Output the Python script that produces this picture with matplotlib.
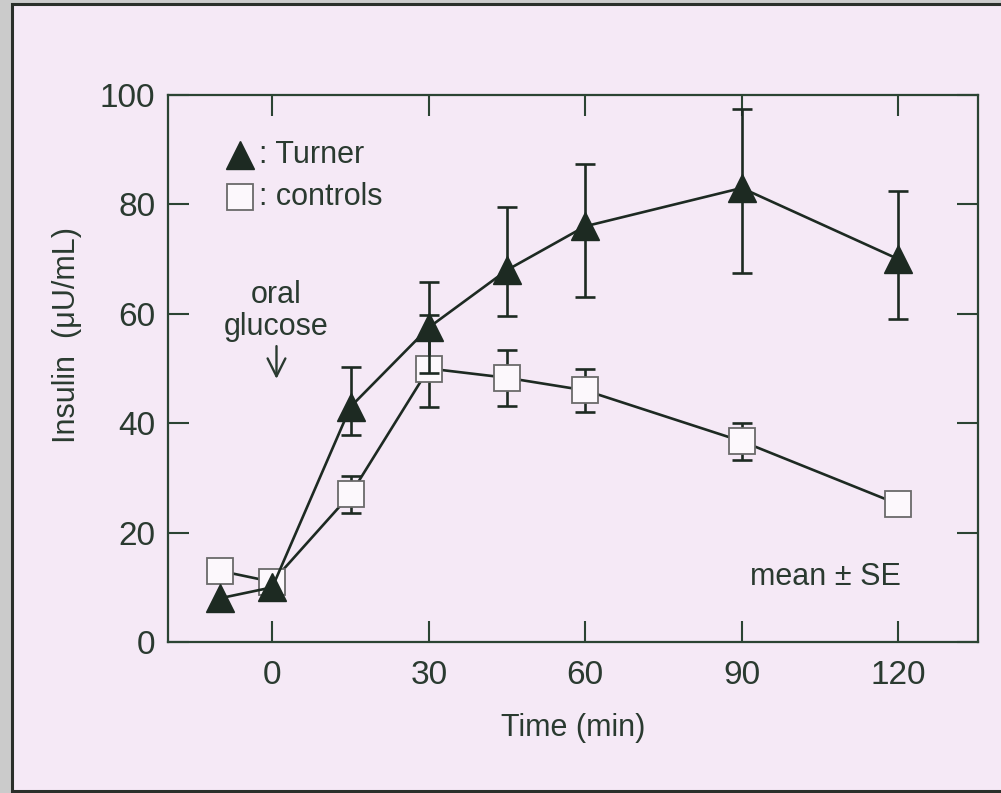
import numpy as np
import matplotlib
matplotlib.use("Agg")
import matplotlib.pyplot as plt
from matplotlib.patches import Rectangle
from matplotlib import font_manager

# ---- data ----
time = [-10, 0, 15, 30, 45, 60, 90, 120]
turner_mean = [8, 10, 43, 57.5, 68, 76, 83, 70]
turner_err_low = [np.nan, np.nan, 5.2, 8.3, 8.4, 13, 15.5, 11]
turner_err_high = [np.nan, np.nan, 7.3, 8.3, 11.5, 11.3, 14.5, 12.5]
control_mean = [13, 11, 27, 50, 48.3, 46, 36.7, 25.2]
control_err_low = [np.nan, np.nan, 3.4, 7, 5.2, 3.9, 3.5, np.nan]
control_err_high = [np.nan, np.nan, 3.4, 9.8, 5.0, 3.9, 3.3, np.nan]
xticks = [0, 30, 60, 90, 120]
yticks = [0, 20, 40, 60, 80, 100]

names = {f.name for f in font_manager.fontManager.ttflist}
fam = ['Liberation Sans Narrow', 'DejaVu Sans'] if 'Liberation Sans Narrow' in names else ['Liberation Sans', 'DejaVu Sans']
plt.rcParams['font.family'] = fam

BG = '#f5e9f6'
INK = '#1d2a22'
SPINE = '#2b4433'
TXT = '#2a3a30'
SQ_FACE = '#fcf8fc'
SQ_EDGE = '#6a6a6a'

W, H = 1001, 793
fig = plt.figure(figsize=(W / 100, H / 100), dpi=100, facecolor='#cbcbcb')

# outer slide frame
frame = Rectangle((12 / W, 2 / H), 1.2, (789 - 2) / H, transform=fig.transFigure,
                  facecolor=BG, edgecolor='#2a2f2a', linewidth=2.2, zorder=-10)
fig.add_artist(frame)

ax = fig.add_axes([168 / W, 1 - 642 / H, 810 / W, 547 / H])
ax.set_zorder(5)
ax.set_facecolor(BG)
ax.set_xlim(-20, 135.3)
ax.set_ylim(0, 100)

for s in ax.spines.values():
    s.set_color(SPINE)
    s.set_linewidth(1.6)

ax.set_xticks(xticks)
ax.set_yticks(yticks)
ax.tick_params(direction='in', length=15, width=1.5, color=SPINE,
               top=True, right=True, labelsize=24, labelcolor=TXT)
ax.tick_params(axis='y', pad=9)
ax.tick_params(axis='x', pad=13)

# controls: error bars under the squares
ax.errorbar(time, control_mean, yerr=[control_err_low, control_err_high], fmt='none',
            ecolor=INK, elinewidth=1.9, capsize=7.5, capthick=1.9, zorder=2)
ax.plot(time, control_mean, color=INK, lw=1.9, marker='s', ms=18.5,
        mfc=SQ_FACE, mec=SQ_EDGE, mew=1.3, zorder=3)
# turner: error bars drawn on top
ax.plot(time, turner_mean, color=INK, lw=1.9, marker='^', ms=20,
        mfc=INK, mec=INK, zorder=4)
ax.errorbar(time, turner_mean, yerr=[turner_err_low, turner_err_high], fmt='none',
            ecolor=INK, elinewidth=1.9, capsize=7.5, capthick=1.9, zorder=5)

# legend (manual)
ax.plot([0.089], [0.890], transform=ax.transAxes, marker='^', ms=20, color=INK,
        ls='none', clip_on=False)
ax.text(0.112, 0.890, ': Turner', transform=ax.transAxes, fontsize=22, color=TXT,
        va='center', ha='left')
ax.plot([0.089], [0.8135], transform=ax.transAxes, marker='s', ms=18.5, mfc=SQ_FACE,
        mec=SQ_EDGE, mew=1.3, ls='none', clip_on=False)
ax.text(0.112, 0.8135, ': controls', transform=ax.transAxes, fontsize=22, color=TXT,
        va='center', ha='left')

# annotations
ax.text(0.8, 60.5, 'oral\nglucose', ha='center', va='center', fontsize=22,
        color=TXT, linespacing=1.05)
ax.annotate('', xy=(0.8, 47.6), xytext=(0.8, 54.6),
            arrowprops=dict(arrowstyle='->', color=TXT, lw=1.7, mutation_scale=32))
ax.text(106, 11.9, 'mean ± SE', ha='center', va='center', fontsize=22, color=TXT)

fig.text(67 / W, 1 - 335 / H, 'Insulin  (μU/mL)', rotation=90, ha='center', va='center',
         fontsize=22, color=TXT)
fig.text(573 / W, 1 - 728 / H, 'Time (min)', ha='center', va='center',
         fontsize=22, color=TXT)

fig.savefig('out.png', dpi=100, facecolor=fig.get_facecolor())
